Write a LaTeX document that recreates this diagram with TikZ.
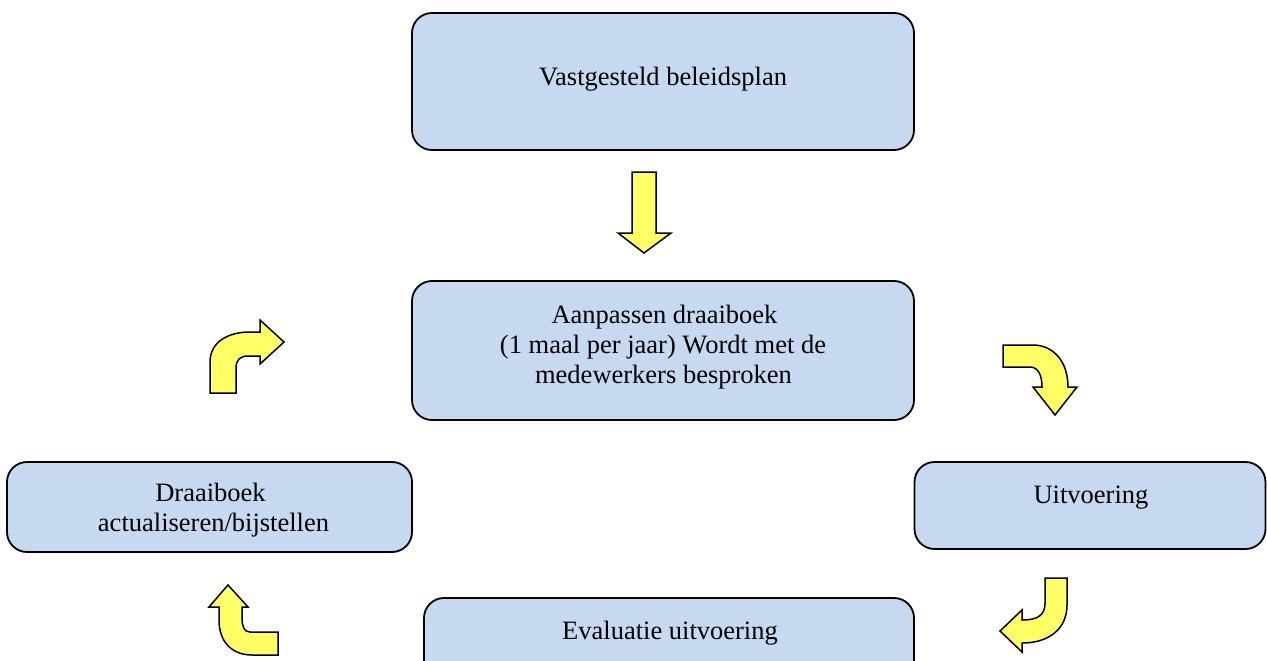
\documentclass[tikz,border=0pt]{standalone}
\usepackage{fontspec}
\setmainfont{Liberation Serif}
\definecolor{boxblue}{RGB}{198,217,241}
\definecolor{arrowyellow}{RGB}{255,255,102}
\begin{document}
\begin{tikzpicture}[x=1pt,y=-1pt,
  box/.style={draw=black, line width=1.8pt, fill=boxblue, rounded corners=20pt, inner sep=0pt},
  lbl/.style={anchor=base, font=\fontsize{26.5}{30.5}\selectfont, inner sep=0pt},
  blockarrow/.style={draw=black, line width=1.5pt, fill=arrowyellow, line join=miter}]
\clip (0,0) rectangle (1267,661);
\fill[white] (0,0) rectangle (1267,661);
% boxes
\node[box, minimum width=502pt, minimum height=137pt] (b1) at (663,81.5) {};
\node[box, minimum width=502pt, minimum height=139pt] (b2) at (663,350.5) {};
\node[box, minimum width=405pt, minimum height=90pt] (b3) at (209.5,507) {};
\node[box, minimum width=351pt, minimum height=87pt] (b4) at (1090,505.5) {};
\node[box, minimum width=490pt, minimum height=102pt] (b5) at (669,649) {};
% texts
\node[lbl] (t1) at (663,85) {Vastgesteld beleidsplan};
\node[lbl] (t2a) at (664.5,323) {Aanpassen draaiboek};
\node[lbl] (t2b) at (663,353) {(1 maal per jaar) Wordt met de};
\node[lbl] (t2c) at (663.5,383.5) {medewerkers besproken};
\node[lbl] (t3a) at (210.5,501) {Draaiboek};
\node[lbl] (t3b) at (213.5,531) {actualiseren/bijstellen};
\node[lbl] (t4) at (1091,503) {Uitvoering};
\node[lbl] (t5) at (670,639) {Evaluatie uitvoering};
% block arrows
% down arrow
\draw[blockarrow] (632,172) -- (656,172) -- (656,233) -- (671,233) -- (644,253) -- (618,233) -- (632,233) -- cycle;
% top right: right then down
\draw[blockarrow] (1003,345) -- (1033,345) .. controls (1052,345) and (1068,360) .. (1068,387)
  -- (1077,387) -- (1055,415) -- (1033,387) -- (1042,387)
  .. controls (1042,375) and (1038,367) .. (1030,367) -- (1003,367) -- cycle;
% bottom right: down then left
\draw[blockarrow] (1045,578) -- (1067,578) -- (1067,605) .. controls (1067,628) and (1050,643) .. (1022,643)
  -- (1022,652) -- (1000,631) -- (1022,610) -- (1022,620)
  .. controls (1038,620) and (1045,615) .. (1045,603) -- cycle;
% top left: up then right
\draw[blockarrow] (210,393) -- (210,362) .. controls (210,342) and (228,332) .. (250,332)
  -- (260,332) -- (260,320) -- (284,342) -- (260,364) -- (260,356) -- (248,356)
  .. controls (240,356) and (236,360) .. (236,368) -- (236,393) -- cycle;
% bottom left: left then up
\draw[blockarrow] (278,632) -- (250,632) .. controls (244,632) and (242,626) .. (242,618)
  -- (242,607) -- (248,607) -- (228,585) -- (209,607) -- (219,607) -- (219,620)
  .. controls (219,642) and (232,655) .. (252,655) -- (278,655) -- cycle;
\end{tikzpicture}
\end{document}
